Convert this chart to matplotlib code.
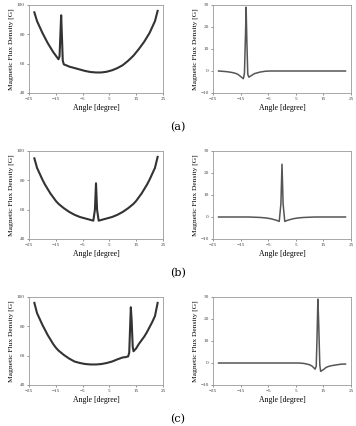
import matplotlib
matplotlib.use("Agg")
import matplotlib.pyplot as plt

plt.rcParams['font.family'] = ['Liberation Serif', 'DejaVu Serif']

# --- data ---
# (a) peak near -13 deg
a_x = [-23, -22, -21, -20, -19, -18, -17, -16, -15, -14, -13.6, -13.2, -13, -12.7, -12.4, -12, -11, -10, -8, -6, -4, -2, 0, 2, 4, 6, 8, 10, 12, 14, 16, 18, 20, 22, 23]
a_left = [95, 89, 85, 81, 77.5, 74, 71, 68, 65.5, 63, 65, 84, 93, 78, 62, 59.5, 58.8, 58, 57, 56, 55, 54.3, 54, 54, 54.5, 55.5, 57, 59, 62, 65.5, 70, 75, 81, 89, 96]
a_right = [0, -0.1, -0.2, -0.3, -0.5, -0.7, -1, -1.5, -2.5, -3.5, -1, 18, 29, 12, -1.5, -2.8, -2, -1.2, -0.5, -0.1, 0, 0, 0, 0, 0, 0, 0, 0, 0, 0, 0, 0, 0, 0, 0]

# (b) peak at 0 deg
b_x = [-23, -22, -21, -20, -19, -18, -17, -16, -15, -14, -12, -10, -8, -6, -4, -2, -1, -0.4, 0, 0.4, 1, 2, 4, 6, 8, 10, 12, 14, 15, 16, 17, 18, 19, 20, 21, 22, 23]
b_left = [95, 88.5, 84.5, 80.5, 77, 74, 71, 68.5, 66, 64, 61, 58.5, 56.5, 55, 54, 53, 52.5, 60, 78, 60, 52.5, 53, 54, 55, 56.5, 58.5, 61, 64, 66, 68.5, 71, 74, 77, 80.5, 84.5, 88.5, 96]
b_right = [0, 0, 0, 0, 0, 0, 0, 0, 0, 0, 0, -0.1, -0.2, -0.4, -0.8, -1.5, -2, 6, 24, 6, -2, -1.5, -0.8, -0.4, -0.2, -0.1, 0, 0, 0, 0, 0, 0, 0, 0, 0, 0, 0]

# (c) peak near +13 deg
c_x = [-23, -22, -21, -20, -19, -18, -17, -16, -15, -14, -12, -10, -8, -6, -4, -2, 0, 2, 4, 6, 8, 10, 11, 12, 12.4, 12.7, 13, 13.3, 13.7, 14, 15, 16, 17, 18, 19, 20, 21, 22, 23]
c_left = [96, 89, 85, 81, 77.5, 74, 71, 68, 65.5, 63.5, 60.5, 58, 56, 55, 54.3, 54, 54, 54.3, 55, 56, 57.5, 58.8, 59, 59.5, 62, 78, 93, 84, 66, 63, 65, 68, 70.5, 73, 76, 79.5, 83, 87, 96]
c_right = [0, 0, 0, 0, 0, 0, 0, 0, 0, 0, 0, 0, 0, 0, 0, 0, 0, 0, 0, 0, -0.2, -0.8, -1.5, -2.8, -1.5, 12, 29, 18, -1, -3.8, -3, -2, -1.5, -1.2, -1, -0.8, -0.6, -0.5, -0.5]

panels = [(a_x, a_left, a_right, "(a)"),
          (b_x, b_left, b_right, "(b)"),
          (c_x, c_left, c_right, "(c)")]

xticks = [-25, -15, -5, 5, 15, 25]

fig = plt.figure(figsize=(3.56, 4.26), dpi=100)
W, H = 356, 426

tops = [5, 151, 297]
for (x, yl, yr, cap), top in zip(panels, tops):
    for side in range(2):
        if side == 0:
            left, right = 29, 163
            y, ylim, yt, col, lw = yl, (40, 100), [40, 60, 80, 100], '#333333', 1.5
        else:
            left, right = 213, 351
            y, ylim, yt, col, lw = yr, (-10, 30), [-10, 0, 10, 20, 30], '#555555', 1.1
        ax = fig.add_axes([left / W, 1 - (top + 88) / H, (right - left) / W, 88 / H])
        ax.plot(x, y, color=col, lw=lw)
        ax.set_xlim(-25, 25)
        ax.set_ylim(*ylim)
        ax.set_xticks(xticks)
        ax.set_yticks(yt)
        ax.tick_params(labelsize=3.8, length=1.5, width=0.4, pad=1.5, colors='#444444')
        for s in ax.spines.values():
            s.set_color('#999999')
            s.set_linewidth(0.6)
        ax.set_xlabel("Angle [degree]", fontsize=5.6, labelpad=2)
        ax.set_ylabel("Magnetic Flux Density [G]", fontsize=5.4, labelpad=2)
    fig.text(178 / W, 1 - (top + 122) / H, cap, fontsize=8, ha='center', va='center',
             family=['DejaVu Serif'])

fig.savefig("out.png", dpi=100)
